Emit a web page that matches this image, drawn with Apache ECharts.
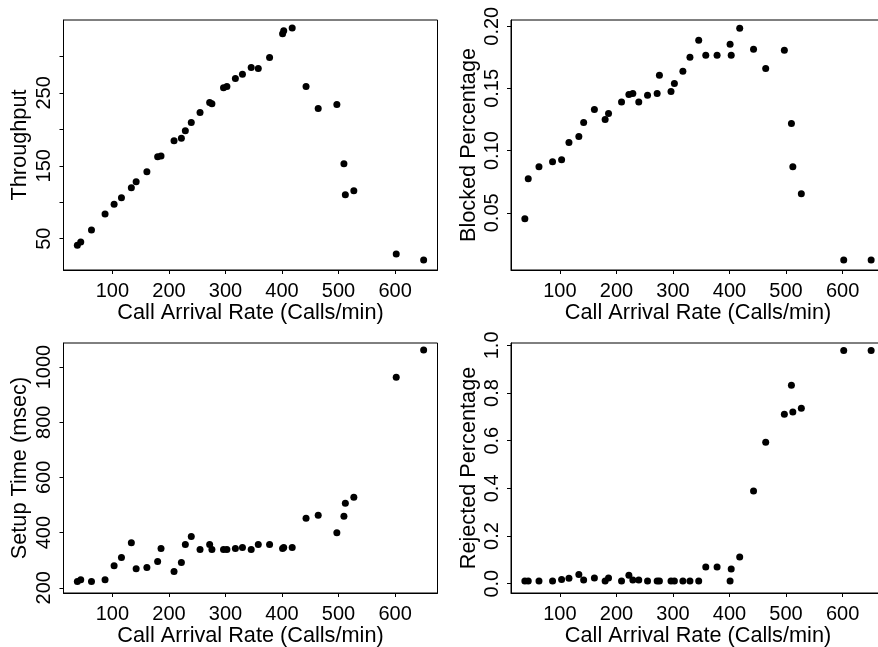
<!DOCTYPE html>
<html>
<head>
<meta charset="utf-8">
<script src="https://cdn.jsdelivr.net/npm/echarts@6/dist/echarts.min.js"></script>
<style>
html,body{margin:0;padding:0;background:#fff;}
#chart{width:878px;height:647px;}
</style>
</head>
<body>
<div id="chart"></div>
<script>
// Call arrival rate (Calls/min), shared by all four panels
const callRate = [38, 44, 63, 87, 103, 116, 133.5, 142, 161, 180, 186, 209, 222, 229, 239.5, 255, 272, 276, 296.5, 302.5, 317.5, 330, 345.5, 358, 378, 401, 403, 418, 442.5, 464, 497, 509.5, 512, 527, 602, 650.5];
const throughput = [40.9, 45.5, 62, 84, 97.3, 106, 119.8, 128, 141.8, 162.4, 163.4, 184.4, 187.6, 198.2, 209.2, 223, 236.7, 235, 257, 258.8, 269.8, 275.7, 284.9, 283.5, 298.6, 331.2, 335.3, 338.9, 258.8, 228.5, 234, 152.8, 110.1, 115.6, 28.9, 20.7];
const blockedPct = [0.0452, 0.0774, 0.0871, 0.0911, 0.0927, 0.1065, 0.1113, 0.1226, 0.1331, 0.125, 0.1298, 0.139, 0.1452, 0.146, 0.139, 0.1444, 0.146, 0.1605, 0.1476, 0.154, 0.1637, 0.175, 0.1887, 0.1766, 0.1766, 0.1855, 0.1766, 0.1984, 0.1815, 0.1661, 0.1806, 0.1218, 0.0871, 0.0653, 0.0121, 0.0121];
const setupTime = [222.9, 229, 222.9, 229, 279.9, 310, 363.3, 269, 273.7, 295.5, 342.6, 259.2, 291.8, 357.2, 386.2, 339, 357.2, 339, 339, 339, 342.6, 346.3, 339, 357.2, 357.2, 342.6, 346.3, 346.3, 451.5, 462.4, 399.6, 458.8, 506, 527.8, 963.3, 1061.3];
const rejectedPct = [0.011, 0.011, 0.011, 0.011, 0.018, 0.023, 0.039, 0.016, 0.024, 0.011, 0.024, 0.011, 0.036, 0.016, 0.016, 0.011, 0.011, 0.011, 0.011, 0.011, 0.011, 0.011, 0.011, 0.07, 0.07, 0.011, 0.062, 0.112, 0.389, 0.594, 0.711, 0.833, 0.72, 0.736, 0.979, 0.979];

// tick marks and labels
const xTicks = [100, 200, 300, 400, 500, 600];
const throughputTicks = [50, 100, 150, 200, 250, 300];
const throughputLabels = [50, 150, 250];
const blockedTicks = [0.05, 0.10, 0.15, 0.20];
const setupTicks = [200, 400, 600, 800, 1000];
const rejectedTicks = [0, 0.2, 0.4, 0.6, 0.8, 1.0];

const FONT = 'Liberation Sans, Arial, Helvetica, sans-serif';
const chart = echarts.init(document.getElementById('chart'));

const grids = [
  {left: 63.5, top: 20, width: 374, height: 250},
  {left: 511, top: 20, width: 374, height: 250},
  {left: 63.5, top: 343, width: 374, height: 250},
  {left: 511, top: 343, width: 374, height: 250}
].map(g => Object.assign(g, {show: true, borderColor: '#000', borderWidth: 1, containLabel: false, outerBoundsMode: 'none'}));

function xAxisCfg(i) {
  return {
    type: 'value', gridIndex: i, min: 13.5, max: 675,
    name: 'Call Arrival Rate (Calls/min)', nameLocation: 'middle', nameGap: 31,
    nameTextStyle: {fontSize: 21.7, color: '#000', fontFamily: FONT},
    axisLine: {show: true, onZero: false, lineStyle: {color: '#000', width: 1}},
    axisTick: {show: true, length: 4, customValues: xTicks, lineStyle: {color: '#000'}},
    axisLabel: {customValues: xTicks, fontSize: 20, color: '#000', fontFamily: FONT, margin: 11},
    splitLine: {show: false}
  };
}
function yAxisCfg(i, name, min, max, ticks, labels, fmt, nameGap) {
  return {
    type: 'value', gridIndex: i, min: min, max: max,
    name: name, nameLocation: 'middle', nameGap: nameGap, nameRotate: 90,
    nameTextStyle: {fontSize: 21.7, color: '#000', fontFamily: FONT},
    axisLine: {show: true, onZero: false, lineStyle: {color: '#000', width: 1}},
    axisTick: {show: true, length: 4, customValues: ticks, lineStyle: {color: '#000'}},
    axisLabel: {customValues: labels, fontSize: 20, color: '#000', fontFamily: FONT, rotate: 90, margin: 9, formatter: fmt},
    splitLine: {show: false}
  };
}

function pairs(ys) { return callRate.map((x, k) => [x, ys[k]]); }
function sc(i, ys) {
  return {type: 'scatter', xAxisIndex: i, yAxisIndex: i, data: pairs(ys), symbol: 'circle', symbolSize: 7,
          itemStyle: {color: '#000', opacity: 1}, silent: true, animation: false};
}

const option = {
  backgroundColor: '#fff',
  animation: false,
  grid: grids,
  xAxis: [xAxisCfg(0), xAxisCfg(1), xAxisCfg(2), xAxisCfg(3)],
  yAxis: [
    yAxisCfg(0, 'Throughput', 7, 350, throughputTicks, throughputLabels, v => String(v), 32),
    yAxisCfg(1, 'Blocked Percentage', 0.004, 0.205, blockedTicks, blockedTicks, v => v.toFixed(2), 31),
    yAxisCfg(2, 'Setup Time (msec)', 181, 1087, setupTicks, setupTicks, v => String(v), 32),
    yAxisCfg(3, 'Rejected Percentage', -0.039, 1.01, rejectedTicks, rejectedTicks, v => v.toFixed(1), 31)
  ],
  series: [sc(0, throughput), sc(1, blockedPct), sc(2, setupTime), sc(3, rejectedPct)]
};
chart.setOption(option);
</script>
</body>
</html>
